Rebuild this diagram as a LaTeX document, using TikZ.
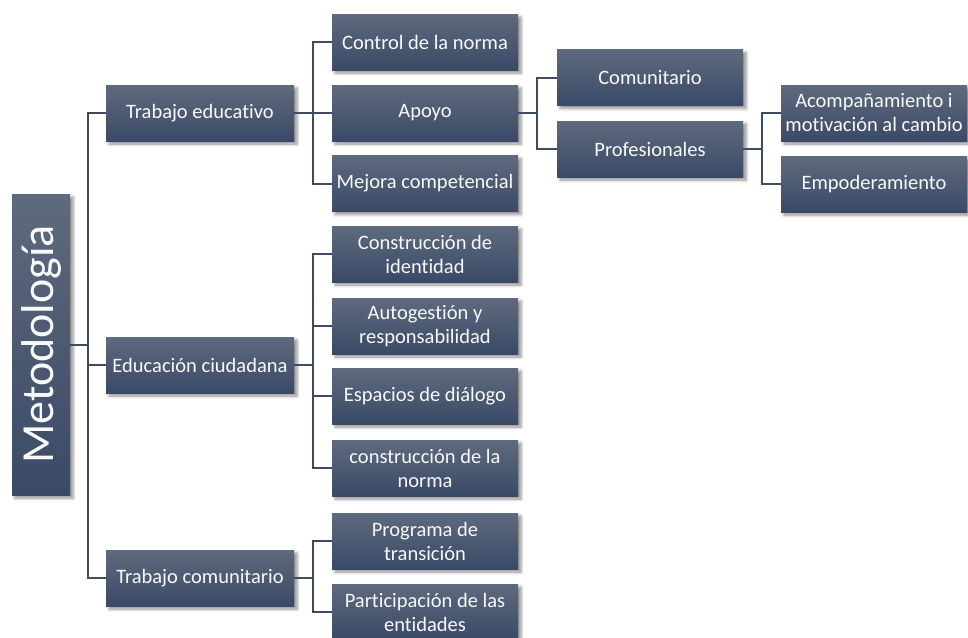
\documentclass[tikz,border=0pt]{standalone}
\usepackage{fontspec}
\setmainfont{Carlito}[Ligatures={NoCommon,NoRare}]
\usetikzlibrary{shadows.blur}
\definecolor{boxtop}{HTML}{5E6A7E}
\definecolor{boxbot}{HTML}{3A4966}
\definecolor{linkc}{HTML}{3E4C63}
\tikzset{
  card/.style={minimum width=186pt, minimum height=56pt, inner sep=0pt,
    top color=boxtop, bottom color=boxbot, draw=none,
    text=white!95!gray, font=\fontsize{20.5}{24}\selectfont, align=center,
    blur shadow={shadow xshift=3pt, shadow yshift=-3pt, shadow blur steps=6, shadow blur radius=3pt, shadow opacity=45}},
  link/.style={draw=linkc, line width=2pt}
}
\begin{document}
\begin{tikzpicture}[x=1pt, y=-1pt]
\useasboundingbox (0,0) rectangle (968,637);
% root
\node[card, minimum width=58pt, minimum height=301pt] (root) at (41,344.5)
  {\rotatebox{90}{\fontsize{46}{48}\selectfont Metodología}};
% level 1
\node[card, minimum width=188pt] (te) at (200,113) {Trabajo educativo};
\node[card, minimum width=188pt] (ec) at (200,365) {Educación ciudadana};
\node[card, minimum width=188pt] (tc) at (200,578) {Trabajo comunitario};
% level 2
\node[card] (cn) at (425,42) {Control de la norma};
\node[card] (ap) at (425,113) {Apoyo};
\node[card] (mc) at (425,183.5) {Mejora competencial};
\node[card] (ci) at (425,254) {Construcción de\\identidad};
\node[card] (ar) at (425,326) {Autogestión y\\responsabilidad};
\node[card] (ed) at (425,396) {Espacios de diálogo};
\node[card] (cln) at (425,468) {construcción de la\\norma};
\node[card] (pt) at (425,541) {Programa de\\transición};
\node[card] (pe) at (425,612) {Participación de las\\entidades};
% level 3
\node[card] (co) at (650,77.5) {Comunitario};
\node[card] (pr) at (650,149) {Profesionales};
% level 4
\node[card] (am) at (874,113) {Acompañamiento i\\motivación al cambio};
\node[card] (em) at (874,184) {Empoderamiento};
% branch columns
\coordinate (b0) at (88,0);
\coordinate (b1) at (313,0);
\coordinate (b2) at (537,0);
\coordinate (b3) at (762,0);
% connectors
\foreach \c in {te,ec,tc}
  \draw[link] (root.east) -- (root.east -| b0) |- (\c.west);
\foreach \c in {cn,ap,mc}
  \draw[link] (te.east) -- (te.east -| b1) |- (\c.west);
\foreach \c in {ci,ar,ed,cln}
  \draw[link] (ec.east) -- (ec.east -| b1) |- (\c.west);
\foreach \c in {pt,pe}
  \draw[link] (tc.east) -- (tc.east -| b1) |- (\c.west);
\foreach \c in {co,pr}
  \draw[link] (ap.east) -- (ap.east -| b2) |- (\c.west);
\foreach \c in {am,em}
  \draw[link] (pr.east) -- (pr.east -| b3) |- (\c.west);
\end{tikzpicture}
\end{document}
